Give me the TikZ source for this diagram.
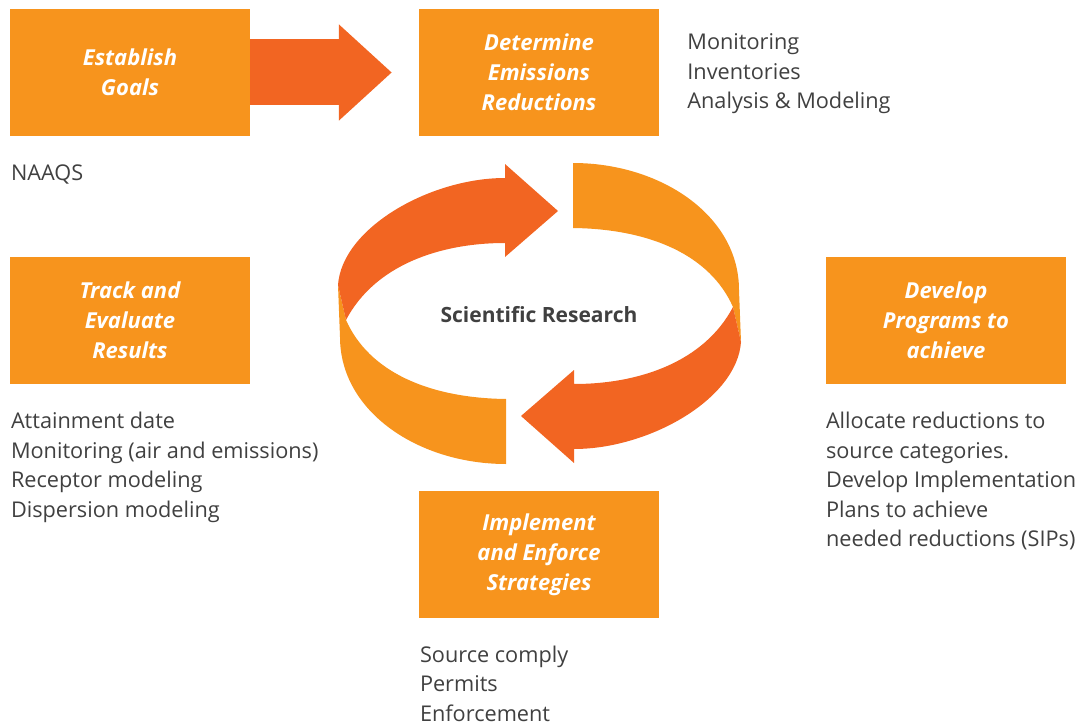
\documentclass[tikz,border=0pt]{standalone}
\usepackage{fontspec}
\setmainfont{Open Sans}
\usepackage{tikz}
\usetikzlibrary{positioning,arrows.meta}
\definecolor{boxorange}{HTML}{F7941D}
\definecolor{darkorange}{HTML}{F26522}
\definecolor{textgrey}{HTML}{404040}
\tikzstyle{stage} = [fill=boxorange, minimum width=240pt, minimum height=127pt, inner sep=0pt, align=center, text=white, font=\fontsize{22}{30}\selectfont\bfseries\itshape]
\tikzstyle{note} = [align=left, inner sep=0pt, text=textgrey, font=\fontsize{21.7}{29.5}\selectfont]
\tikzstyle{bigarrow} = [draw=darkorange, line width=66pt, -{Triangle[length=53pt,width=93pt]}]

\begin{document}
\begin{tikzpicture}[x=1pt,y=-1pt]
			\useasboundingbox (0,0) rectangle (1088,725);
			\node[stage] (goals) at (130,72.5) {Establish\\Goals};
			\node[stage] (emis) at (539,72.5) {Determine\\Emissions\\Reductions};
			\node[stage] (track) at (130,320.5) {Track and\\Evaluate\\Results};
			\node[stage] (progs) at (946,320.5) {Develop\\Programs to\\achieve};
			\node[stage] (impl) at (539,554.5) {Implement\\and Enforce\\Strategies};
			\draw[bigarrow] (goals.east) -- ([xshift=-27pt]emis.west);
			% the research cycle
			\fill[boxorange] (573,163) .. controls (660,163) and (739,215) .. (739,290) -- (741,342) -- (733,307) .. controls (710,255) and (650,229) .. (573,228) -- cycle;
			\fill[boxorange] (506,464) .. controls (419,464) and (340,412) .. (340,337) -- (338,285) -- (346,320) .. controls (369,372) and (429,398) .. (506,399) -- cycle;
			\fill[darkorange] (346,320) -- (338,285) .. controls (342,228) and (430,178) .. (505,178) -- (505,164) -- (558,211) -- (505,257) -- (505,243) .. controls (440,243) and (375,265) .. (346,320) -- cycle;
			\fill[darkorange] (733,307) -- (741,342) .. controls (737,399) and (649,449) .. (574,449) -- (574,463) -- (521,416) -- (574,370) -- (574,384) .. controls (639,384) and (704,362) .. (733,307) -- cycle;
			\node[text=textgrey, font=\fontsize{21}{25}\selectfont\bfseries] (research) at (539,315) {Scientific Research};
			% notes under and beside the stages
			\node[note, below right=25pt and 28pt of emis.north east] {Monitoring\\Inventories\\Analysis \& Modeling};
			\node[note, below right=28pt and 1pt of goals.south west] {NAAQS};
			\node[note, below right=28pt and 1pt of track.south west] {Attainment date\\Monitoring (air and emissions)\\Receptor modeling\\Dispersion modeling};
			\node[note, below right=28pt and 0pt of progs.south west] {Allocate reductions to\\source categories.\\Develop Implementation\\Plans to achieve\\needed reductions (SIPs)};
			\node[note, below right=27.5pt and 1pt of impl.south west] {Source comply\\Permits\\Enforcement};
		\end{tikzpicture}
\end{document}
